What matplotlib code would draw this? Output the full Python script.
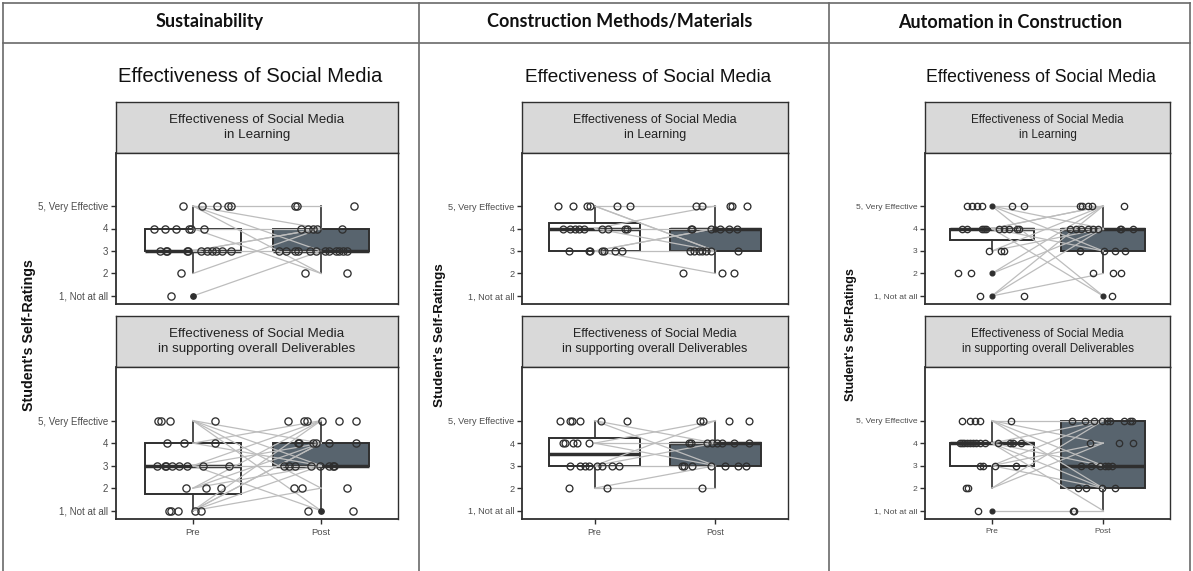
import matplotlib
matplotlib.use("Agg")
import matplotlib.pyplot as plt
from matplotlib.lines import Line2D

# ---------------- data ----------------
columns = ["Sustainability", "Construction Methods/Materials", "Automation in Construction"]
main_title = "Effectiveness of Social Media"
strip_titles = ["Effectiveness of Social Media\nin Learning",
                "Effectiveness of Social Media\nin supporting overall Deliverables"]
groups = ["Pre", "Post"]
ytick_vals = [1, 2, 3, 4, 5]
ytick_labels = ["1, Not at all", "2", "3", "4", "5, Very Effective"]
ylabel = "Student's Self-Ratings"

# box summaries: [whislo, q1, med, q3, whishi]
sus_learn_box_pre = [2, 3, 3, 4, 5]
sus_learn_box_post = [2, 3, 3, 4, 5]
sus_deliv_box_pre = [1, 1.75, 3, 4, 5]
sus_deliv_box_post = [1, 3, 3, 4, 5]
cm_learn_box_pre = [3, 3, 4, 4.25, 5]
cm_learn_box_post = [2, 3, 4, 4, 5]
cm_deliv_box_pre = [2, 3, 3.5, 4.25, 5]
cm_deliv_box_post = [2, 3, 4, 4, 5]
au_learn_box_pre = [3, 3.5, 4, 4, 4]
au_learn_box_post = [2, 3, 4, 4, 5]
au_deliv_box_pre = [2, 3, 4, 4, 5]
au_deliv_box_post = [1, 2, 3, 5, 5]

# individual ratings (pre / post) and their read-off horizontal jitter
sus_learn_pre = [5, 5, 5, 5, 5, 4, 4, 4, 4, 4, 4, 3, 3, 3, 3, 3, 3, 3, 3, 3, 3, 3, 2, 1, 1]
sus_learn_pre_jit = [-0.08, 0.07, 0.185, 0.27, 0.30, -0.30, -0.22, -0.13, -0.03, -0.015, 0.09,
                     -0.26, -0.21, -0.2, -0.05, -0.04, 0.06, 0.11, 0.15, 0.18, 0.23, 0.30, -0.09, -0.17, 0.0]
sus_learn_post = [5, 5, 5, 4, 4, 4, 4, 4, 3, 3, 3, 3, 3, 3, 3, 3, 3, 3, 3, 3, 2, 2]
sus_learn_post_jit = [-0.2, -0.19, 0.26, -0.16, -0.10, -0.065, -0.03, 0.16,
                      -0.33, -0.27, -0.2, -0.18, -0.09, -0.04, 0.03, 0.065, 0.12, 0.14, 0.17, 0.2, -0.125, 0.2]
sus_learn_pair_pre = [5, 5, 5, 5, 4, 4, 3, 3, 3, 2, 1]
sus_learn_pair_post = [5, 4, 3, 2, 4, 2, 4, 4, 3, 4, 3]

sus_deliv_pre = [5, 5, 5, 5, 4, 4, 4, 3, 3, 3, 3, 3, 3, 3, 3, 2, 2, 2, 1, 1, 1, 1, 1]
sus_deliv_pre_jit = [-0.27, -0.25, -0.18, 0.17, -0.2, -0.07, 0.17,
                     -0.28, -0.22, -0.21, -0.16, -0.11, -0.05, 0.075, 0.28, -0.055, 0.1, 0.22,
                     -0.19, -0.17, -0.12, 0.02, 0.06]
sus_deliv_post = [5, 5, 5, 5, 5, 5, 4, 4, 4, 4, 4, 4, 3, 3, 3, 3, 3, 3, 3, 3, 2, 2, 2, 1, 1, 1]
sus_deliv_post_jit = [-0.26, -0.13, -0.11, 0.01, 0.14, 0.27, -0.18, -0.17, -0.065, -0.04, 0.06, 0.27,
                      -0.29, -0.25, -0.2, -0.08, -0.01, 0.065, 0.09, 0.1, -0.21, -0.15, 0.2, -0.1, 0.0, 0.25]
sus_deliv_pair_pre = [5, 5, 5, 5, 4, 4, 3, 3, 3, 3, 2, 2, 2, 1, 1, 1, 1, 1]
sus_deliv_pair_post = [4, 3, 2, 1, 5, 3, 5, 4, 3, 1, 5, 4, 3, 5, 4, 4, 3, 2]

cm_learn_pre = [5, 5, 5, 5, 5, 5, 4, 4, 4, 4, 4, 4, 4, 4, 4, 3, 3, 3, 3, 3, 3, 3]
cm_learn_pre_jit = [-0.30, -0.175, -0.065, -0.04, 0.185, 0.295,
                    -0.26, -0.2, -0.16, -0.13, -0.09, 0.06, 0.11, 0.25, 0.27,
                    -0.215, -0.05, -0.035, 0.06, 0.075, 0.17, 0.23]
cm_learn_post = [5, 5, 5, 5, 5, 4, 4, 4, 4, 4, 4, 4, 3, 3, 3, 3, 3, 3, 3, 2, 2, 2]
cm_learn_post_jit = [-0.165, -0.11, 0.12, 0.135, 0.26, -0.2, -0.19, -0.035, 0.0, 0.04, 0.11, 0.18,
                     -0.21, -0.18, -0.14, -0.11, -0.08, -0.04, 0.19, -0.27, 0.055, 0.15]
cm_learn_pair_pre = [5, 5, 5, 4, 4, 4, 3, 3, 3, 3]
cm_learn_pair_post = [5, 3, 3, 5, 3, 4, 4, 4, 2, 3]

cm_deliv_pre = [5, 5, 5, 5, 5, 5, 4, 4, 4, 4, 4, 3, 3, 3, 3, 3, 3, 3, 3, 2, 2]
cm_deliv_pre_jit = [-0.285, -0.2, -0.19, -0.12, 0.055, 0.27, -0.26, -0.245, -0.175, -0.145, -0.05,
                    -0.2, -0.12, -0.08, -0.05, 0.02, 0.06, 0.145, 0.2, -0.215, 0.1]
cm_deliv_post = [5, 5, 5, 5, 4, 4, 4, 4, 4, 4, 4, 4, 3, 3, 3, 3, 3, 3, 3, 2]
cm_deliv_post_jit = [-0.125, -0.1, 0.11, 0.28, -0.22, -0.2, -0.07, -0.03, 0.015, 0.055, 0.15, 0.28,
                     -0.275, -0.26, -0.19, -0.04, 0.08, 0.19, 0.25, -0.11]
cm_deliv_pair_pre = [5, 5, 4, 4, 4, 3, 3, 3, 2, 2]
cm_deliv_pair_post = [4, 3, 5, 4, 3, 5, 4, 3, 2, 3]

au_learn_pre = [5, 5, 5, 5, 5, 5, 5, 4, 4, 4, 4, 4, 4, 4, 4, 4, 4, 3, 3, 3, 2, 2, 2, 1, 1, 1]
au_learn_pre_jit = [-0.22, -0.18, -0.135, -0.085, 0.0, 0.185, 0.29,
                    -0.265, -0.22, -0.09, -0.07, -0.05, 0.065, 0.11, 0.155, 0.23, 0.245,
                    -0.025, 0.08, 0.11, -0.3, -0.19, 0.0, -0.11, 0.0, 0.29]
au_learn_post = [5, 5, 5, 5, 5, 4, 4, 4, 4, 4, 4, 4, 4, 4, 3, 3, 3, 3, 2, 2, 2, 1, 1]
au_learn_post_jit = [-0.21, -0.19, -0.14, -0.1, 0.19,
                     -0.3, -0.245, -0.2, -0.14, -0.09, -0.05, 0.15, 0.16, 0.27,
                     -0.21, 0.01, 0.11, 0.2, -0.09, 0.09, 0.16, 0.0, 0.08]
au_learn_pair_pre = [5, 5, 5, 5, 4, 4, 4, 4, 4, 4, 3, 3, 2, 2, 1, 1, 1]
au_learn_pair_post = [5, 4, 3, 1, 5, 5, 4, 4, 3, 1, 4, 5, 5, 4, 5, 4, 2]

au_deliv_pre = [5, 5, 5, 5, 5, 4, 4, 4, 4, 4, 4, 4, 4, 4, 4, 4, 4, 4, 3, 3, 3, 3, 2, 2, 1, 1]
au_deliv_pre_jit = [-0.27, -0.2, -0.155, -0.11, 0.17,
                    -0.29, -0.27, -0.25, -0.22, -0.2, -0.17, -0.14, -0.105, -0.065, 0.055, 0.16, 0.19, 0.265,
                    -0.105, -0.075, 0.025, 0.22, -0.23, -0.21, -0.125, 0.0]
au_deliv_post = [5, 5, 5, 5, 5, 5, 5, 5, 5, 4, 4, 4, 3, 3, 3, 3, 3, 3, 2, 2, 2, 2, 1, 1]
au_deliv_post_jit = [-0.28, -0.165, -0.085, -0.01, 0.03, 0.06, 0.185, 0.24, 0.255,
                     -0.115, 0.145, 0.27, -0.195, -0.105, -0.03, 0.015, 0.045, 0.075,
                     -0.225, -0.15, -0.015, 0.105, -0.27, -0.265]
au_deliv_pair_pre = [5, 5, 5, 5, 4, 4, 4, 4, 3, 3, 3, 2, 2, 1]
au_deliv_pair_post = [5, 4, 3, 2, 5, 3, 2, 1, 5, 4, 2, 5, 4, 1]

panels = [
    [(sus_learn_box_pre, sus_learn_box_post, sus_learn_pre, sus_learn_pre_jit, sus_learn_post,
      sus_learn_post_jit, sus_learn_pair_pre, sus_learn_pair_post),
     (sus_deliv_box_pre, sus_deliv_box_post, sus_deliv_pre, sus_deliv_pre_jit, sus_deliv_post,
      sus_deliv_post_jit, sus_deliv_pair_pre, sus_deliv_pair_post)],
    [(cm_learn_box_pre, cm_learn_box_post, cm_learn_pre, cm_learn_pre_jit, cm_learn_post,
      cm_learn_post_jit, cm_learn_pair_pre, cm_learn_pair_post),
     (cm_deliv_box_pre, cm_deliv_box_post, cm_deliv_pre, cm_deliv_pre_jit, cm_deliv_post,
      cm_deliv_post_jit, cm_deliv_pair_pre, cm_deliv_pair_post)],
    [(au_learn_box_pre, au_learn_box_post, au_learn_pre, au_learn_pre_jit, au_learn_post,
      au_learn_post_jit, au_learn_pair_pre, au_learn_pair_post),
     (au_deliv_box_pre, au_deliv_box_post, au_deliv_pre, au_deliv_pre_jit, au_deliv_post,
      au_deliv_post_jit, au_deliv_pair_pre, au_deliv_pair_post)],
]

# ---------------- layout / style ----------------
W, H = 1193, 571
fig = plt.figure(figsize=(W / 100, H / 100), dpi=100)
fig.patch.set_facecolor("white")
plt.rcParams["font.family"] = ["Liberation Sans", "DejaVu Sans"]

DARK = "#2f2f2f"
TICKTXT = "#4d4d4d"
POST_FILL = "#58646e"
LINE_GRAY = "#bdbdbd"
TABLE = "#6a6a6a"

col_x = [(116, 398), (522, 788), (925, 1170)]
col_scale = [1.0, 0.94, 0.87]
header_x = [210, 620, 1010]
ylabel_x = [29, 440, 851]
rows_y = [((101.7, 152.7), (152.7, 304.3)), ((316, 367.3), (367.3, 519))]


def px_axes(x0, y0, x1, y1):
    return fig.add_axes([x0 / W, 1 - y1 / H, (x1 - x0) / W, (y1 - y0) / H])


# table frame
frame = fig.add_axes([0, 0, 1, 1])
frame.set_xlim(0, W)
frame.set_ylim(H, 0)
frame.axis("off")
frame.plot([3, 1190], [3, 3], color=TABLE, lw=1.2)
frame.plot([3, 1190], [43, 43], color=TABLE, lw=1.2)
for xv in [3, 419, 829, 1190]:
    frame.plot([xv, xv], [3, H], color=TABLE, lw=1.2)
for ci, name in enumerate(columns):
    frame.text(header_x[ci], 22, name, ha="center", va="center", fontsize=13,
               fontweight="bold", family=["Lato", "DejaVu Sans"], color="#111111")

for ci in range(3):
    x0, x1 = col_x[ci]
    s = col_scale[ci]
    frame.text((x0 + x1) / 2 - 7, 77, main_title, ha="center", va="center",
               fontsize=14.6 * s, color="#111111")
    frame.text(ylabel_x[ci], 335, ylabel, rotation=90, ha="center", va="center",
               fontsize=10.0 * s + 0.3, fontweight="bold", color="#111111")
    for ri in range(2):
        (sy0, sy1), (py0, py1) = rows_y[ri]
        box_pre, box_post, pre, pre_j, post, post_j, pair_pre, pair_post = panels[ci][ri]

        st = px_axes(x0, sy0, x1, sy1)
        st.set_facecolor("#d9d9d9")
        st.set_xticks([])
        st.set_yticks([])
        for sp in st.spines.values():
            sp.set_color(DARK)
            sp.set_linewidth(1.0)
        st.text(0.5, 0.5, strip_titles[ri], ha="center", va="center", transform=st.transAxes,
                fontsize=9.6 * s, color="#222222", linespacing=1.35)

        ax = px_axes(x0, py0, x1, py1)
        ax.set_xlim(0.4, 2.6)
        ax.set_ylim(0.63, 7.37)
        stats = []
        for b, lab in zip([box_pre, box_post], groups):
            stats.append({"whislo": b[0], "q1": b[1], "med": b[2], "q3": b[3],
                          "whishi": b[4], "fliers": [], "label": lab})
        bp = ax.bxp(stats, positions=[1, 2], widths=0.75, patch_artist=True,
                    showcaps=False, showfliers=False,
                    boxprops=dict(edgecolor=DARK, linewidth=1.4),
                    whiskerprops=dict(color=DARK, linewidth=1.2),
                    medianprops=dict(color=DARK, linewidth=2.5), zorder=1)
        bp["boxes"][0].set_facecolor("white")
        bp["boxes"][1].set_facecolor(POST_FILL)

        for a, b in zip(pair_pre, pair_post):
            ax.add_line(Line2D([1, 2], [a, b], color=LINE_GRAY, lw=0.9, zorder=2))

        for base, vals, jits in [(1, pre, pre_j), (2, post, post_j)]:
            for v, j in zip(vals, jits):
                filled = (j == 0.0)
                ax.plot(base + j, v, marker="o",
                        ms=(3.6 * s + 0.3) if filled else (4.8 * s + 0.4),
                        mfc=DARK if filled else "none", mec=DARK, mew=0.95, zorder=3)

        ax.set_yticks(ytick_vals)
        ax.set_yticklabels(ytick_labels)
        ax.tick_params(axis="y", length=3.5, width=1.0, color=DARK, labelsize=7.0 * s,
                       labelcolor=TICKTXT, pad=2)
        if ri == 1:
            ax.set_xticks([1, 2])
            ax.set_xticklabels(groups)
            ax.tick_params(axis="x", length=3.5, width=1.0, color=DARK, labelsize=6.8 * s,
                           labelcolor=TICKTXT, pad=3)
        else:
            ax.set_xticks([])
        for sp in ax.spines.values():
            sp.set_color(DARK)
            sp.set_linewidth(1.0)
        ax.spines["left"].set_linewidth(1.3)
        ax.spines["bottom"].set_linewidth(1.3)

fig.savefig("out.png", dpi=100, facecolor="white")
